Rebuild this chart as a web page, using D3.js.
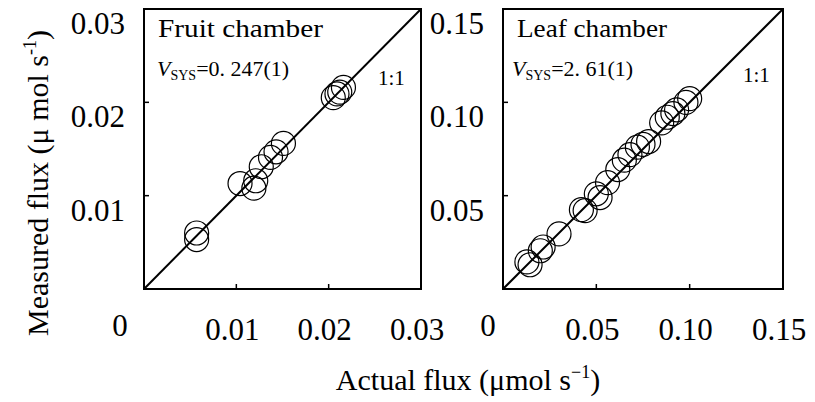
<!DOCTYPE html>
<html>
<head>
<meta charset="utf-8">
<script src="https://cdn.jsdelivr.net/npm/d3@7"></script>
<style>
  body { margin: 0; background: #fff; }
  text { font-family: "Times New Roman", "Liberation Serif", Times, serif; fill: #000; }
</style>
</head>
<body>
<script>
// fruit chamber points [actual, measured]
var fruitPts = [
  [0.0057, 0.0060], [0.0057, 0.0053],
  [0.0104, 0.0113], [0.0119, 0.0108], [0.0121, 0.0116],
  [0.0127, 0.0131], [0.0137, 0.0141], [0.0143, 0.0147], [0.0151, 0.0156],
  [0.0205, 0.0205], [0.0209, 0.0209], [0.0212, 0.0211], [0.0216, 0.0216]
];
// leaf chamber points [actual, measured]
var leafPts = [
  [0.0128, 0.0145], [0.0145, 0.0130], [0.0200, 0.0205], [0.0215, 0.0225],
  [0.0300, 0.0295], [0.0420, 0.0425], [0.0440, 0.0420], [0.0500, 0.0510],
  [0.0520, 0.0490], [0.0560, 0.0570], [0.0615, 0.0640], [0.0650, 0.0690],
  [0.0680, 0.0720], [0.0720, 0.0760], [0.0750, 0.0775], [0.0780, 0.0790],
  [0.0850, 0.0890], [0.0880, 0.0920], [0.0910, 0.0940], [0.0930, 0.0960],
  [0.0980, 0.1000], [0.1000, 0.1020]
];
var fruitTicks = [0.01, 0.02];
var fruitTickLabels = ["0.01", "0.02", "0.03"];
var leafTicks = [0.05, 0.10];
var leafTickLabels = ["0.05", "0.10", "0.15"];

var W = 815, H = 402;
var svg = d3.select("body").append("svg").attr("width", W).attr("height", H);

var panels = [
  {pts: fruitPts, max: 0.03, ticks: fruitTicks, labels: fruitTickLabels,
   x0: 144, x1: 421, y0: 289, y1: 9, title: "Fruit chamber", titleLen: 165,
   vsys: "=0. 247(1)", vx: 157, onex: 378, oney: 85, zeroX: 120},
  {pts: leafPts, max: 0.15, ticks: leafTicks, labels: leafTickLabels,
   x0: 503, x1: 783, y0: 289, y1: 9, title: "Leaf chamber", titleLen: 150,
   vsys: "=2. 61(1)", vx: 512, onex: 743, oney: 82, zeroX: 488}
];

panels.forEach(function(p) {
  var x = d3.scaleLinear().domain([0, p.max]).range([p.x0, p.x1]);
  var y = d3.scaleLinear().domain([0, p.max]).range([p.y0, p.y1]);
  var g = svg.append("g");

  // frame
  g.append("rect")
    .attr("x", p.x0).attr("y", p.y1)
    .attr("width", p.x1 - p.x0).attr("height", p.y0 - p.y1)
    .style("fill", "none").style("stroke", "#000").style("stroke-width", 2);

  // inward ticks on left and bottom
  p.ticks.forEach(function(t) {
    g.append("line").attr("x1", x(t)).attr("x2", x(t))
      .attr("y1", p.y0).attr("y2", p.y0 - 5)
      .style("stroke", "#000").style("stroke-width", 1.5);
    g.append("line").attr("x1", p.x0).attr("x2", p.x0 + 5)
      .attr("y1", y(t)).attr("y2", y(t))
      .style("stroke", "#000").style("stroke-width", 1.5);
  });

  // tick labels
  var tv = p.ticks.concat([p.max]);
  tv.forEach(function(t, i) {
    g.append("text").attr("x", x(t) - 4).attr("y", 340)
      .attr("text-anchor", "middle").attr("font-size", 31).text(p.labels[i]);
    g.append("text").attr("x", p.x0 - 19).attr("y", y(t) + 25)
      .attr("text-anchor", "end").attr("font-size", 31).text(p.labels[i]);
  });
  g.append("text").attr("x", p.zeroX).attr("y", 336)
    .attr("text-anchor", "middle").attr("font-size", 31).text("0");

  // 1:1 line
  g.append("line")
    .attr("x1", x(0)).attr("y1", y(0)).attr("x2", x(p.max)).attr("y2", y(p.max))
    .style("stroke", "#000").style("stroke-width", 2);

  // points
  g.selectAll("circle.pt").data(p.pts).enter().append("circle")
    .attr("class", "pt")
    .attr("cx", function(d) { return x(d[0]); })
    .attr("cy", function(d) { return y(d[1]); })
    .attr("r", 12)
    .style("fill", "none").style("stroke", "#000").style("stroke-width", 1.2);

  // labels
  g.append("text").attr("x", p.x0 + 14).attr("y", 37)
    .attr("font-size", 25).attr("textLength", p.titleLen)
    .attr("lengthAdjust", "spacingAndGlyphs").text(p.title);
  var v = g.append("text").attr("x", p.vx).attr("y", 76).attr("font-size", 22);
  v.append("tspan").attr("font-style", "italic").text("V");
  v.append("tspan").attr("font-size", 14).attr("dy", 4).text("SYS");
  v.append("tspan").attr("dy", -4).text(p.vsys);
  g.append("text").attr("x", p.onex).attr("y", p.oney)
    .attr("font-size", 21).text("1:1");
});

// axis titles
svg.append("text")
  .attr("transform", "translate(48,183) rotate(-90)")
  .attr("text-anchor", "middle").attr("font-size", 30)
  .html('Measured flux (\u03bc mol s<tspan dy="-12" font-size="18">-1</tspan><tspan dy="12">)</tspan>');
svg.append("text")
  .attr("x", 468).attr("y", 390)
  .attr("text-anchor", "middle").attr("font-size", 30)
  .html('Actual flux (\u03bcmol s<tspan dy="-12" font-size="18">\u22121</tspan><tspan dy="12">)</tspan>');
</script>
</body>
</html>
